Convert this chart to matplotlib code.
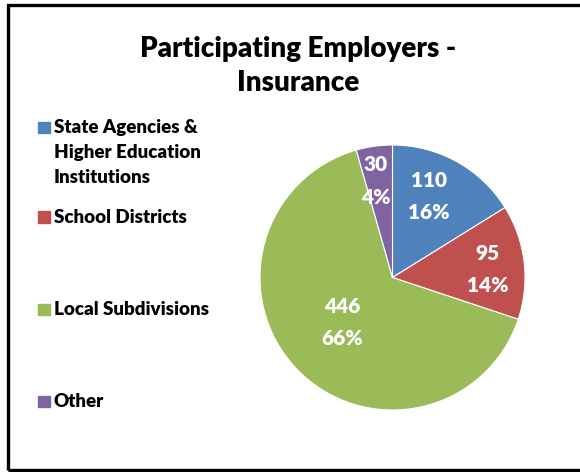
import numpy as np
import matplotlib.pyplot as plt
from matplotlib.patches import Rectangle

categories = ['State Agencies &\nHigher Education\nInstitutions', 'School Districts',
              'Local Subdivisions', 'Other']
counts = [110, 95, 446, 30]
percents = [16, 14, 66, 4]
colors = ['#4F81BD', '#C0504D', '#9BBB59', '#8064A2']

# where each value label sits: fraction of radius and angle nudge (deg)
label_r = [0.67, 0.72, 0.51, 0.74]
label_nudge = [4.8, -1.9, -2.0, 1.8]

plt.rcParams['font.family'] = ['Lato', 'DejaVu Sans']
WEIGHT = 'heavy'

W, H = 580, 472
fig = plt.figure(figsize=(W / 100, H / 100), dpi=100)


def fx(px):
    return px / W


def fy(py):
    return 1 - py / H


# outer frame
fig.patches.append(Rectangle((fx(8), fy(470)), 1.2, (470 - 5) / H, transform=fig.transFigure,
                             fill=False, edgecolor='black', linewidth=2.4))

fig.text(fx(298), fy(57), 'Participating Employers -', ha='center', va='baseline',
         fontsize=20, fontweight=WEIGHT)
fig.text(fx(298), fy(91), 'Insurance', ha='center', va='baseline',
         fontsize=20, fontweight=WEIGHT)

cx, cy, r = 392.5, 277.5, 132.5
ax = fig.add_axes([fx(cx - r), fy(cy + r), 2 * r / W, 2 * r / H])
wedges, _ = ax.pie(counts, colors=colors, startangle=90, counterclock=False, radius=1,
                   wedgeprops=dict(edgecolor='white', linewidth=0.8))
ax.set_xlim(-1, 1)
ax.set_ylim(-1, 1)
ax.set_aspect('equal')

for w, n, p, fr, nd in zip(wedges, counts, percents, label_r, label_nudge):
    ang = np.deg2rad((w.theta1 + w.theta2) / 2 + nd)
    x, y = fr * np.cos(ang), fr * np.sin(ang)
    for txt, dy in ((f'{n}', 11.7), (f'{p}%', -11.7)):
        ax.annotate(txt, (x, y), xytext=(0, dy), textcoords='offset points',
                    ha='center', va='center', color='white',
                    fontsize=15, fontweight=WEIGHT)

# legend drawn as squares plus text, one baseline per line
leg_base = [[133, 158, 183], [223], [315], [407]]
for lab, c, bases in zip(categories, colors, leg_base):
    fig.patches.append(Rectangle((fx(38), fy(bases[0])), 12 / W, 11.5 / H,
                                 transform=fig.transFigure, color=c))
    for line, b in zip(lab.split('\n'), bases):
        fig.text(fx(54), fy(b), line, ha='left', va='baseline',
                 fontsize=13.5, fontweight=WEIGHT)

fig.savefig('out.png', dpi=100)
